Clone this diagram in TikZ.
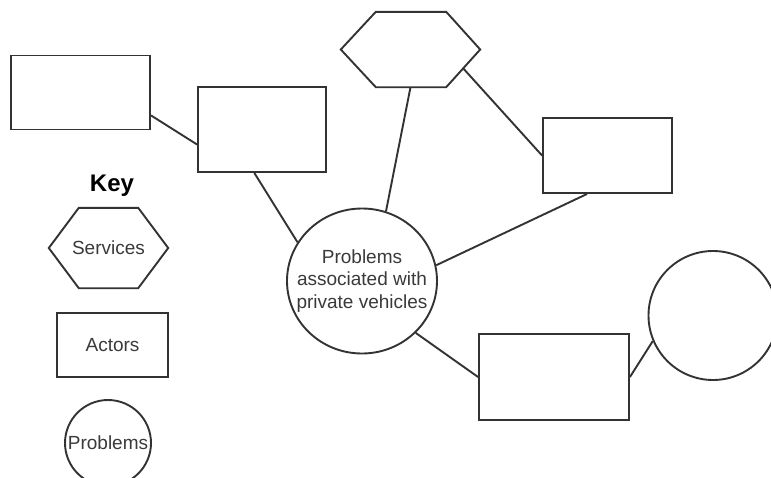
\documentclass[tikz,border=0pt]{standalone}
\usepackage{fontspec}
\setmainfont{Liberation Sans}
\usetikzlibrary{shapes.geometric,calc}
\definecolor{ln}{HTML}{333333}
\definecolor{tx}{HTML}{3A3A3A}
\tikzset{
  box/.style={draw=ln, line width=1.9pt, rectangle, inner sep=0pt},
  blob/.style={draw=ln, line width=1.9pt, ellipse, inner sep=0pt},
  link/.style={draw=ln, line width=1.9pt},
  hexline/.style={draw=ln, line width=1.9pt, line join=miter},
  lbl/.style={text=tx, font=\fontsize{19}{22.5}\selectfont, align=center, inner sep=0pt},
  hexbox/.style={rectangle, inner sep=0pt},
}
\begin{document}
\begin{tikzpicture}[x=1pt,y=-1pt]
\clip (0,0) rectangle (771,477);
\fill[white] (0,0) rectangle (771,477);

% main diagram
\node[box, minimum width=139pt, minimum height=74pt] (r1) at (80.5,92.5) {};
\node[box, minimum width=128pt, minimum height=85pt] (r2) at (262,129.5) {};
\node[hexbox, minimum width=139pt, minimum height=75pt] (hx) at (410.5,49.5) {};
\draw[hexline] (hx.west) -- ($(hx.north west)+(35,0)$) coordinate (hxA)
  -- ($(hx.north east)+(-34,0)$) coordinate (hxB) -- (hx.east)
  -- ($(hx.south east)+(-34,0)$) coordinate (hxC)
  -- ($(hx.south west)+(35,0)$) coordinate (hxD) -- cycle;
\coordinate (hxR) at ($(hx.east)!0.5!(hxC)$);
\node[box, minimum width=129pt, minimum height=75pt] (rR) at (607.5,155.5) {};
\node[blob, minimum width=150pt, minimum height=145pt] (c) at (362,281) {};
\node[lbl] (ct) at (c.center) {Problems\\associated with\\private vehicles};
\node[box, minimum width=150pt, minimum height=86pt] (rB) at (554,377) {};
\node[blob, minimum width=129pt, minimum height=129pt] (cR) at (713,315.5) {};

\draw[link] (r1.-18.7) -- (r2.-167.2);
\draw[link] (r2.-100.7) -- (c.149);
\draw[link] (hx.south) -- (c.71.3);
\draw[link] (hxR) -- (rR.west);
\draw[link] (rR.-118.7) -- (c.12.9);
\draw[link] (c.-44.5) -- (rB.west);
\draw[link] (rB.east) -- (cR.-157);

% key
\node[text=black, font=\fontsize{24}{28}\selectfont\bfseries, anchor=base] (key) at (112,191) {Key};
\node[hexbox, minimum width=119pt, minimum height=80pt] (kh) at (108.5,248) {};
\draw[hexline] (kh.west) -- ($(kh.north west)+(30,0)$) -- ($(kh.north east)+(-30,0)$)
  -- (kh.east) -- ($(kh.south east)+(-30,0)$) -- ($(kh.south west)+(30,0)$) -- cycle;
\node[lbl] (khl) at (kh.center) {Services};
\node[box, minimum width=111pt, minimum height=64pt] (ka) at (112.5,345) {};
\node[lbl] (kal) at (ka.center) {Actors};
\node[blob, minimum width=86pt, minimum height=86pt] (kp) at (108,443) {};
\node[lbl] (kpl) at (kp.center) {Problems};
\end{tikzpicture}
\end{document}
